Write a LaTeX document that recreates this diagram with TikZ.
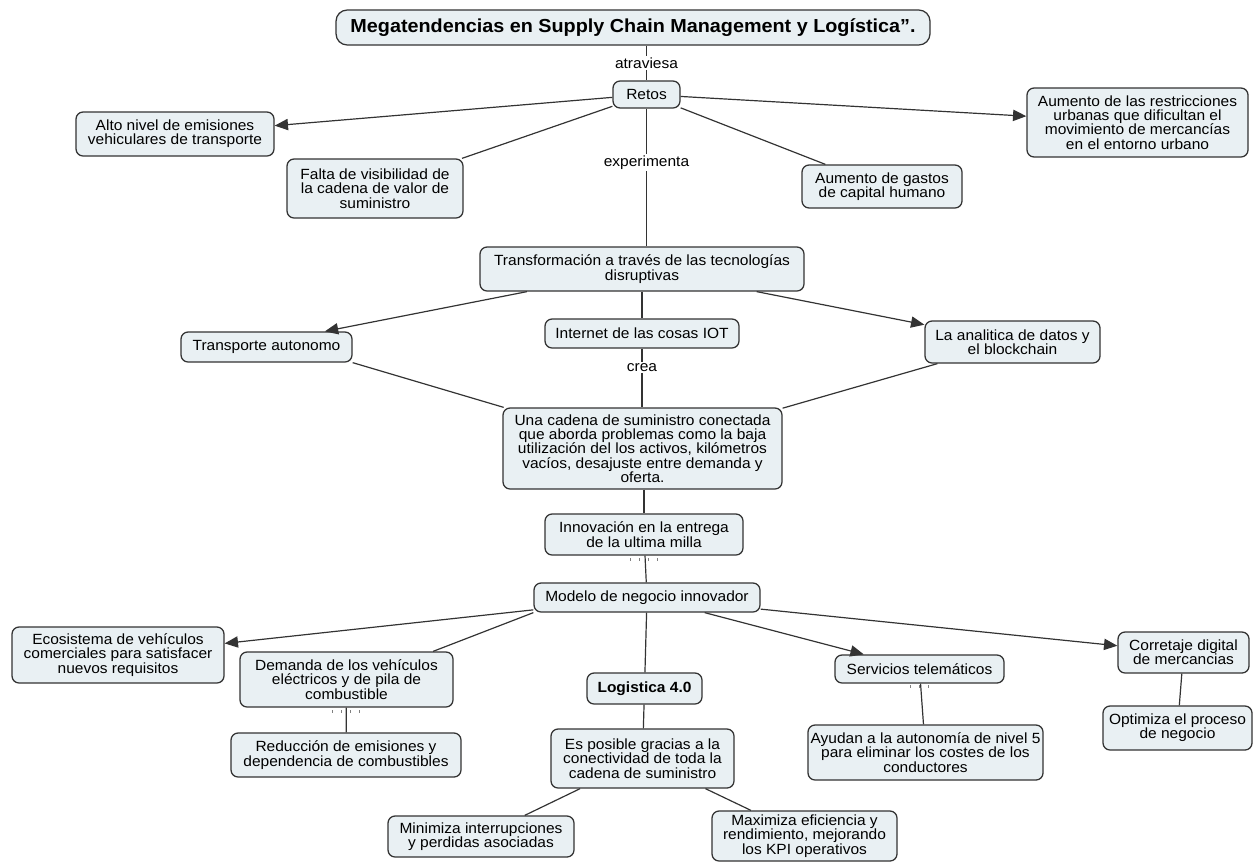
\documentclass[tikz,border=0pt]{standalone}
\usepackage{fontspec}
\setmainfont[FakeStretch=1.05]{Liberation Sans}
\usetikzlibrary{arrows.meta}
\definecolor{cmapfill}{HTML}{E9F0F3}
\definecolor{cmapline}{HTML}{333333}

\begin{document}
\begin{tikzpicture}[x=0.025cm, y=-0.025cm, >={Triangle[length=9.5pt,width=8pt]},
    every node/.style={font=\fontsize{10.5}{10.2}\selectfont},
    concept/.style={draw=cmapline, fill=cmapfill, rounded corners=5pt, line width=0.9pt, align=center, inner sep=1pt},
    box/.style 2 args={minimum width=#1*0.025cm, minimum height=#2*0.025cm},
    link/.style={draw=cmapline, line width=0.85pt},
    lbl/.style={fill=white, inner sep=1pt},
    ticks/.style={draw=gray, line width=2pt, dash pattern=on 0.7pt off 5.7pt}]
\useasboundingbox (0,0) rectangle (1256,862);
    \node[concept, box={594}{35}, rounded corners=8pt, font=\fontsize{13.4}{15}\selectfont\bfseries] (title) at (633,27.5) {Megatendencias en Supply Chain Management y Logística”.};
    \node[concept, box={67}{27}] (retos) at (646.5,94.5) {Retos};
    \node[concept, box={198}{44}] (alto) at (175,134) {Alto nivel de emisiones\\vehiculares de transporte};
    \node[concept, box={176}{59}] (falta) at (375,188.5) {Falta de visibilidad de\\la cadena de valor de\\suministro};
    \node[concept, box={160}{43}] (gastos) at (882,186.5) {Aumento de gastos\\de capital humano};
    \node[concept, box={221}{69}] (restr) at (1137.5,122.5) {Aumento de las restricciones\\urbanas que dificultan el\\movimiento de mercancías\\en el entorno urbano};
    \node[concept, box={324}{44}] (transf) at (642,269) {Transformación a través de las tecnologías\\disruptivas};
    \node[concept, box={171}{30}] (transp) at (266.5,347) {Transporte autonomo};
    \node[concept, box={194}{29}] (iot) at (642,333.5) {Internet de las cosas IOT};
    \node[concept, box={175}{42}] (anal) at (1012.5,342) {La analitica de datos y\\el blockchain};
    \node[concept, box={279}{81}] (cadena) at (642.5,448.5) {Una cadena de suministro conectada\\que aborda problemas como la baja\\utilización del los activos, kilómetros\\vacíos, desajuste entre demanda y\\oferta.};
    \node[concept, box={198}{41}] (innov) at (644,534.5) {Innovación en la entrega\\de la ultima milla};
    \node[concept, box={226}{29}] (modelo) at (647,597.5) {Modelo de negocio innovador};
    \node[concept, box={212}{56}] (eco) at (118,655) {Ecosistema de vehículos\\comerciales para satisfacer\\nuevos requisitos};
    \node[concept, box={213}{55}] (demanda) at (346.5,679.5) {Demanda de los vehículos\\eléctricos y de pila de\\combustible};
    \node[concept, box={115}{31}, font=\fontsize{10.5}{10}\selectfont\bfseries] (logist) at (644.5,688.5) {Logistica 4.0};
    \node[concept, box={169}{28}] (servic) at (919.5,669) {Servicios telemáticos};
    \node[concept, box={131}{41}] (corret) at (1183.5,652.5) {Corretaje digital\\de mercancias};
    \node[concept, box={149}{44}] (optim) at (1177.5,728) {Optimiza el proceso\\de negocio};
    \node[concept, box={230}{44}] (reduc) at (346,755) {Reducción de emisiones y\\dependencia de combustibles};
    \node[concept, box={183}{59}] (posible) at (642.5,758.5) {Es posible gracias a la\\conectividad de toda la\\cadena de suministro};
    \node[concept, box={235}{55}] (ayudan) at (925.5,752.5) {Ayudan a la autonomía de nivel 5\\para eliminar los costes de los\\conductores};
    \node[concept, box={186}{41}] (minim) at (481,836.5) {Minimiza interrupciones\\y perdidas asociadas};
    \node[concept, box={185}{50}] (maxim) at (804.5,836) {Maximiza eficiencia y\\rendimiento, mejorando\\los KPI operativos};
    % linking phrases
    \draw[link] (title.south -| retos) -- node[lbl] (atrav) {atraviesa} (retos);
    \draw[link] (retos) -- node[lbl, pos=0.39] (exper) {experimenta} (transf.north -| retos);
    \draw[link] (iot) -- node[lbl, pos=0.32] (crea) {crea} (cadena.north -| iot);
    \foreach \from/\to in {retos/falta, retos/gastos, transf/iot, transp.south east/cadena, anal/cadena, cadena.south -| innov/innov, innov/modelo, modelo.south west/demanda.18, modelo/logist, demanda/reduc, logist/posible, servic/ayudan, corret/optim, posible/minim, posible/maxim}
        \draw[link] (\from) -- (\to);
    \foreach \from/\to in {retos/alto, retos/restr, transf/transp.15, transf/anal, modelo/eco, modelo/servic, modelo/corret}
        \draw[link, ->] (\from) -- (\to);
    % small marks under some concepts
    \draw[ticks] (innov.south) ++(-14,4) -- ++(28,0);
    \draw[ticks] (demanda.south) ++(-14.5,4) -- ++(28,0);
    \draw[ticks] (servic.south) ++(-9.5,3) -- ++(22,0);
\end{tikzpicture}
\end{document}
